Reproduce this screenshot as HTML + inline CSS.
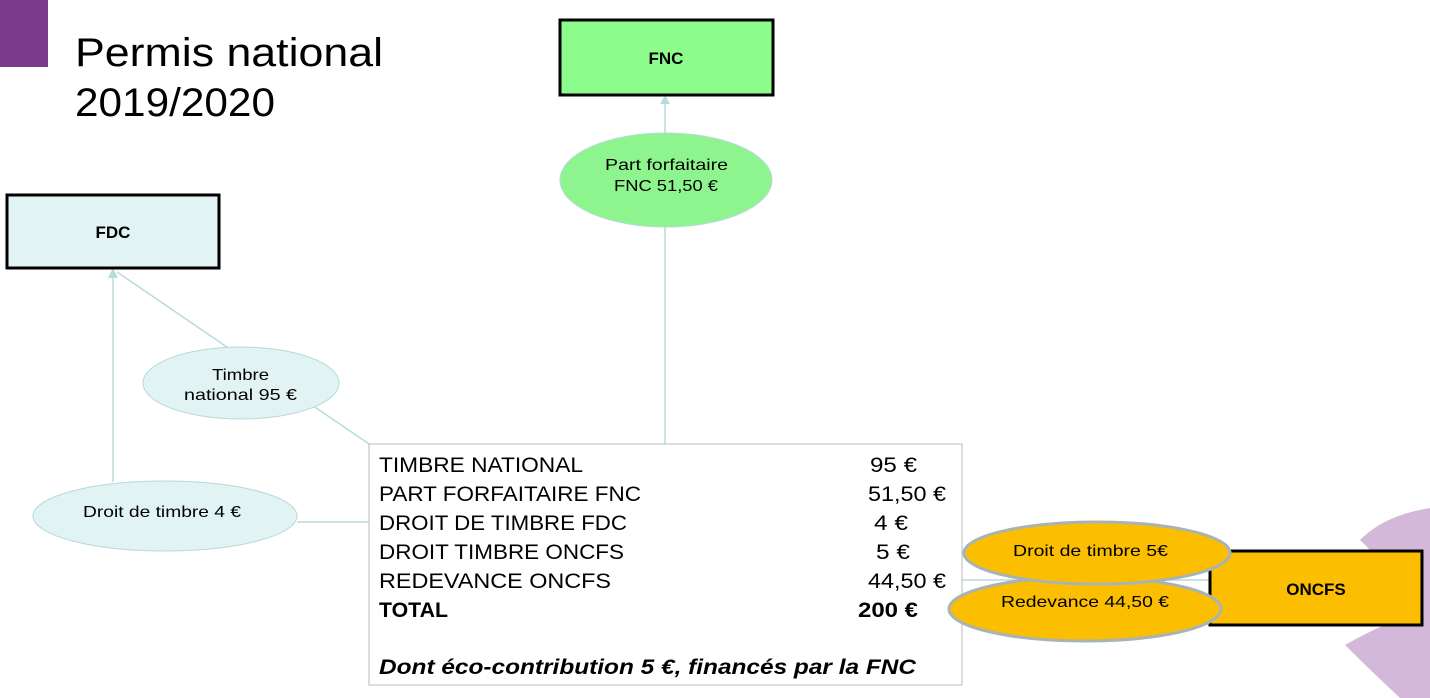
<!DOCTYPE html>
<html><head><meta charset="utf-8"><style>
body{margin:0;background:#fff;}
svg{display:block;font-family:"Liberation Sans",sans-serif;}
</style></head><body>
<svg width="1430" height="698" viewBox="0 0 1430 698" xmlns="http://www.w3.org/2000/svg">
<rect x="0" y="0" width="48" height="67" fill="#7b3a8c"/>
<text x="75" y="66" font-size="40" fill="#000" textLength="308" lengthAdjust="spacingAndGlyphs">Permis national</text>
<text x="75" y="116" font-size="40" fill="#000" textLength="200" lengthAdjust="spacingAndGlyphs">2019/2020</text>
<g fill="#c4a0cc" opacity="0.75">
<path d="M1360,540 Q1385,515 1430,508 L1430,698 L1400,698 Q1370,670 1345,645 Q1368,632 1385,625 L1380,560 Z"/>
</g>
<g stroke="#b8dcdc" stroke-width="1.5" fill="none">
<line x1="369" y1="444" x2="117" y2="272"/>
<line x1="113" y1="482" x2="113" y2="272"/>
<line x1="297" y1="522" x2="369" y2="522"/>
<line x1="665" y1="444" x2="665" y2="98"/>
<line x1="962" y1="580" x2="1210" y2="580"/>
</g>
<polygon points="113,268 108,278 118,278" fill="#b8dcdc"/>
<polygon points="665,95 660,104 670,104" fill="#b8dcdc"/>
<rect x="560" y="20" width="213" height="75" fill="#8cfc8c" stroke="#000" stroke-width="3"/>
<text x="666" y="64" font-size="17" font-weight="bold" text-anchor="middle">FNC</text>
<rect x="7" y="195" width="212" height="73" fill="#e2f3f3" stroke="#000" stroke-width="3"/>
<text x="113" y="238" font-size="17" font-weight="bold" text-anchor="middle">FDC</text>
<rect x="1210" y="551" width="212" height="74" fill="#fcbe00" stroke="#000" stroke-width="3"/>
<text x="1316" y="595" font-size="17" font-weight="bold" text-anchor="middle">ONCFS</text>
<ellipse cx="666" cy="180" rx="106" ry="47" fill="#8ef58e" stroke="#b8d8d8"/>
<text x="605" y="170" font-size="16" textLength="123" lengthAdjust="spacingAndGlyphs">Part forfaitaire</text>
<text x="614" y="191" font-size="16" textLength="104" lengthAdjust="spacingAndGlyphs">FNC 51,50 €</text>
<ellipse cx="241" cy="383" rx="98" ry="36" fill="#e2f3f3" stroke="#b8d8d8"/>
<text x="212" y="380" font-size="16" textLength="57" lengthAdjust="spacingAndGlyphs">Timbre</text>
<text x="184" y="400" font-size="16" textLength="113" lengthAdjust="spacingAndGlyphs">national 95 €</text>
<ellipse cx="165" cy="516" rx="132" ry="35" fill="#e2f3f3" stroke="#b8d8d8"/>
<text x="83" y="517" font-size="16" textLength="158" lengthAdjust="spacingAndGlyphs">Droit de timbre 4 €</text>
<rect x="369" y="444" width="593" height="241" fill="#fff" stroke="#bbb"/>
<g font-size="21">
<text x="379" y="472" textLength="204" lengthAdjust="spacingAndGlyphs">TIMBRE NATIONAL</text><text x="870" y="472" textLength="47" lengthAdjust="spacingAndGlyphs">95 €</text>
<text x="379" y="501" textLength="262" lengthAdjust="spacingAndGlyphs">PART FORFAITAIRE FNC</text><text x="868" y="501" textLength="78" lengthAdjust="spacingAndGlyphs">51,50 €</text>
<text x="379" y="530" textLength="248" lengthAdjust="spacingAndGlyphs">DROIT DE TIMBRE FDC</text><text x="874" y="530" textLength="34" lengthAdjust="spacingAndGlyphs">4 €</text>
<text x="379" y="559" textLength="245" lengthAdjust="spacingAndGlyphs">DROIT TIMBRE ONCFS</text><text x="876" y="559" textLength="34" lengthAdjust="spacingAndGlyphs">5 €</text>
<text x="379" y="588" textLength="232" lengthAdjust="spacingAndGlyphs">REDEVANCE ONCFS</text><text x="868" y="588" textLength="78" lengthAdjust="spacingAndGlyphs">44,50 €</text>
<text x="379" y="617" font-weight="bold" textLength="69" lengthAdjust="spacingAndGlyphs">TOTAL</text><text x="858" y="617" font-weight="bold" textLength="60" lengthAdjust="spacingAndGlyphs">200 €</text>
<text x="379" y="674" font-weight="bold" font-style="italic" textLength="537" lengthAdjust="spacingAndGlyphs">Dont éco-contribution  5 €, financés par la FNC</text>
</g>
<ellipse cx="1085" cy="609" rx="136" ry="32" fill="#fcbe00" stroke="#a8b4b4" stroke-width="3"/>
<text x="1001" y="607" font-size="16" textLength="168" lengthAdjust="spacingAndGlyphs">Redevance 44,50 €</text>
<ellipse cx="1097" cy="553" rx="133" ry="31" fill="#fcbe00" stroke="#a8b4b4" stroke-width="3"/>
<text x="1013" y="556" font-size="16" textLength="155" lengthAdjust="spacingAndGlyphs">Droit de timbre 5€</text>
</svg>
</body></html>
